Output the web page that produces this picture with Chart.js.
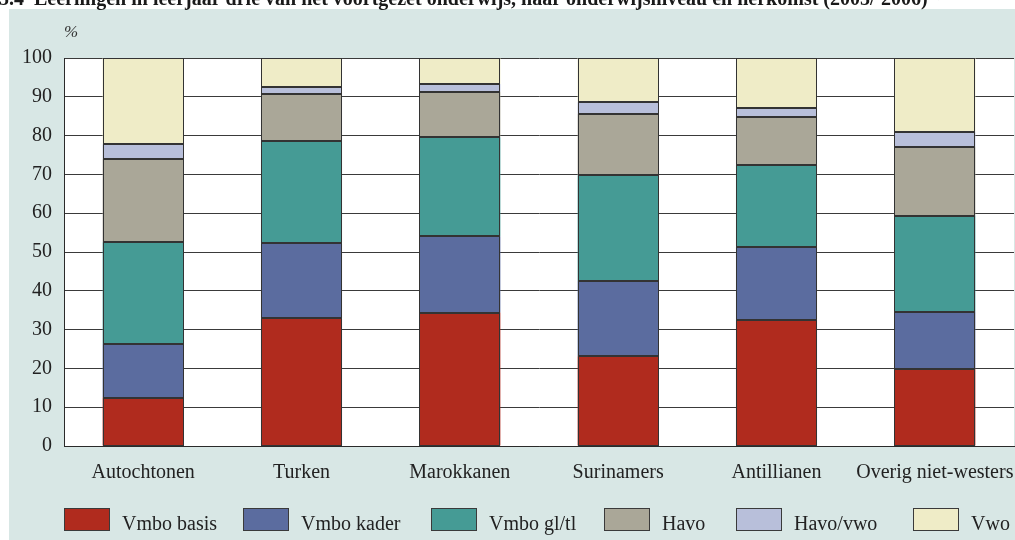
<!DOCTYPE html>
<html>
<head>
<meta charset="utf-8">
<script src="https://cdn.jsdelivr.net/npm/chart.js@4/dist/chart.umd.min.js"></script>
<style>
  html, body { margin: 0; padding: 0; background: #fff; }
  #wrap { position: relative; width: 1015px; height: 540px; }
</style>
</head>
<body>
<div id="wrap"><canvas id="chart" width="1015" height="540"></canvas></div>
<script>
// Leerlingen in leerjaar drie, naar onderwijsniveau en herkomst (%)
const groups = ['Autochtonen', 'Turken', 'Marokkanen', 'Surinamers', 'Antillianen', 'Overig niet-westers'];
const levels = ['Vmbo basis', 'Vmbo kader', 'Vmbo gl/tl', 'Havo', 'Havo/vwo', 'Vwo'];
const yTicks = [0, 10, 20, 30, 40, 50, 60, 70, 80, 90, 100];

const vmboBasis = [12.5, 32.9, 34.4, 23.1, 32.6, 19.9];
const vmboKader = [13.9, 19.3, 19.6, 19.4, 18.8, 14.7];
const vmboGlTl  = [26.1, 26.4, 25.6, 27.3, 21.1, 24.8];
const havo      = [21.5, 12.1, 11.7, 15.8, 12.3, 17.7];
const havoVwo   = [3.8, 1.8, 2.0, 3.0, 2.3, 3.9];
const vwo       = [22.2, 7.5, 6.7, 11.4, 12.9, 19.0];

const colors = ['#b02b1e', '#5b6c9f', '#459b95', '#aaa798', '#b8bfda', '#efecc7'];
const seriesData = [vmboBasis, vmboKader, vmboGlTl, havo, havoVwo, vwo];

const FONT = '"Liberation Serif", "Times New Roman", serif';
const TITLE = "5.4  Leerlingen in leerjaar drie van het voortgezet onderwijs, naar onderwijsniveau en herkomst (2005/'2006)";

// legend box left edges
const legendX = [64, 243, 431, 604, 736, 913];

const backdrop = {
    id: 'backdrop',
    beforeDraw(chart) {
        const ctx = chart.ctx;
        const a = chart.chartArea;
        ctx.save();
        ctx.fillStyle = '#d8e7e5';
        ctx.fillRect(9, 9, chart.width - 9, chart.height - 9);
        ctx.fillStyle = '#ffffff';
        ctx.fillRect(a.left, a.top, a.right - a.left, a.bottom - a.top);
        ctx.restore();
    },
    afterDatasetsDraw(chart) {
        // crisp outlines round every segment
        const ctx = chart.ctx;
        ctx.save();
        ctx.strokeStyle = '#333';
        ctx.lineWidth = 1;
        chart.data.datasets.forEach((ds, i) => {
            chart.getDatasetMeta(i).data.forEach(bar => {
                const p = bar.getProps(['x', 'y', 'base', 'width'], true);
                const l = Math.round(p.x - p.width / 2) + 0.5;
                const r = Math.round(p.x + p.width / 2) - 0.5;
                const t = Math.round(Math.min(p.y, p.base)) + 0.5;
                const b = Math.round(Math.max(p.y, p.base)) - 0.5;
                ctx.strokeRect(l, t, r - l, b - t);
            });
        });
        ctx.restore();
    },
    afterDraw(chart) {
        const ctx = chart.ctx;
        ctx.save();
        // title, cut at the top edge
        ctx.fillStyle = '#1a1a1a';
        ctx.font = 'bold 20px ' + FONT;
        ctx.textBaseline = 'alphabetic';
        ctx.textAlign = 'left';
        ctx.fillText(TITLE, -1, 5);
        const tw = ctx.measureText(TITLE).width;
        ctx.font = 'bold 11px ' + FONT;
        ctx.fillStyle = '#888';
        ctx.fillText('1)', tw + 4, -2);

        // unit label
        ctx.fillStyle = '#333';
        ctx.font = 'italic 17px ' + FONT;
        ctx.fillText('%', 64, 37);

        // legend
        ctx.font = '20px ' + FONT;
        levels.forEach((name, i) => {
            const x = legendX[i];
            ctx.fillStyle = colors[i];
            ctx.fillRect(x, 508, 46, 23);
            ctx.strokeStyle = '#3a3a3a';
            ctx.lineWidth = 1;
            ctx.strokeRect(x + 0.5, 508.5, 45, 22);
            ctx.fillStyle = '#222';
            ctx.fillText(name, x + 58, 530);
        });
        ctx.restore();
    }
};

new Chart(document.getElementById('chart'), {
    type: 'bar',
    data: {
        labels: groups,
        datasets: levels.map((name, i) => ({
            label: name,
            data: seriesData[i],
            backgroundColor: colors[i],
            borderWidth: 0,
            barPercentage: 0.512,
            categoryPercentage: 1
        }))
    },
    options: {
        responsive: false,
        animation: false,
        layout: { padding: { top: 58, right: 1, left: 0, bottom: 0 } },
        plugins: {
            legend: { display: false },
            title: { display: false },
            tooltip: { enabled: false }
        },
        scales: {
            x: {
                stacked: true,
                grid: { display: false },
                border: { display: true, color: '#2a2a2a', width: 1 },
                ticks: {
                    color: '#222',
                    font: { family: FONT, size: 20 },
                    padding: 7,
                    maxRotation: 0,
                    autoSkip: false
                },
                afterFit(axis) {
                    axis.height = 94;
                    axis.paddingLeft = 0;
                    axis.paddingRight = 0;
                }
            },
            y: {
                stacked: true,
                min: 0,
                max: 100,
                afterBuildTicks(axis) { axis.ticks = yTicks.map(v => ({ value: v })); },
                grid: { color: '#3a3a3a', lineWidth: 1, drawTicks: false },
                border: { display: true, color: '#2a2a2a', width: 1 },
                ticks: {
                    color: '#222',
                    font: { family: FONT, size: 20 },
                    padding: 12
                },
                afterFit(axis) { axis.width = 64; }
            }
        }
    },
    plugins: [backdrop]
});
</script>
</body>
</html>
